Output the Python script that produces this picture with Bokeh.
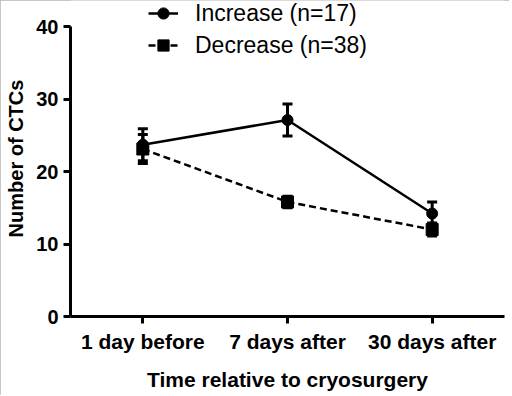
from bokeh.plotting import figure
from bokeh.models import (ColumnDataSource, Whisker, TeeHead, Legend, LegendItem,
                          FactorRange, Range1d, FixedTicker)
from bokeh.embed import file_html
from bokeh.resources import INLINE

# ---- data ----
categories = ["1 day before", "7 days after", "30 days after"]
increase_mean = [23.7, 27.1, 14.2]
increase_sem = [2.2, 2.2, 1.6]
decrease_mean = [23.1, 15.8, 12.0]
decrease_sem = [2.0, 0.8, 0.9]
y_ticks = [0, 10, 20, 30, 40]
increase_label = "Increase (n=17)"
decrease_label = "Decrease (n=38)"

inc_src = ColumnDataSource(dict(
    x=categories, y=increase_mean,
    upper=[m + e for m, e in zip(increase_mean, increase_sem)],
    lower=[m - e for m, e in zip(increase_mean, increase_sem)],
))
dec_src = ColumnDataSource(dict(
    x=categories, y=decrease_mean,
    upper=[m + e for m, e in zip(decrease_mean, decrease_sem)],
    lower=[m - e for m, e in zip(decrease_mean, decrease_sem)],
))

# frame reaches the top of the canvas so the legend (above the 40 tick) is not clipped;
# the axis line itself is bounded to 0..40
FRAME_H = 316
AXIS_TOP_PX = 26
y_end = 40 * FRAME_H / (FRAME_H - AXIS_TOP_PX)

p = figure(width=509, height=395, output_backend="svg", toolbar_location=None,
           x_range=FactorRange(factors=categories), y_range=Range1d(0, y_end),
           min_border_left=70, min_border_right=5, min_border_top=0, min_border_bottom=79)
p.outline_line_color = None
p.xgrid.visible = False
p.ygrid.visible = False
p.background_fill_color = "white"
p.border_fill_color = "white"
p.styles = {"outline": "1px solid #b4b4b4", "outline-offset": "-1px"}

FONT = "Liberation Sans"
for ax in (p.xaxis[0], p.yaxis[0]):
    ax.axis_line_width = 3
    ax.axis_line_color = "black"
    ax.major_tick_line_width = 3
    ax.major_tick_line_color = "black"
    ax.major_tick_out = 7
    ax.major_tick_in = 0
    ax.minor_tick_line_color = None
    ax.major_label_text_font = FONT
    ax.major_label_text_font_style = "bold"
    ax.major_label_text_color = "black"
    ax.axis_label_text_font = FONT
    ax.axis_label_text_font_style = "bold"
    ax.axis_label_text_color = "black"

p.yaxis.ticker = FixedTicker(ticks=y_ticks)
p.yaxis.bounds = (0, 40)
p.yaxis.major_label_text_font_size = "20px"
p.yaxis.major_label_standoff = 5
p.yaxis.axis_label = "Number of CTCs"
p.yaxis.axis_label_text_font_size = "20px"
p.yaxis.axis_label_standoff = 6
p.xaxis.major_label_text_font_size = "21px"
p.xaxis.major_label_standoff = 6
p.xaxis.axis_label = "Time relative to cryosurgery"
p.xaxis.axis_label_text_font_size = "21px"
p.xaxis.axis_label_standoff = 12

# ---- series ----
l_inc = p.line("x", "y", source=inc_src, line_color="black", line_width=2.5)
s_inc = p.scatter("x", "y", source=inc_src, marker="circle", size=11,
                  fill_color="black", line_color="black")
l_dec = p.line("x", "y", source=dec_src, line_color="black", line_width=2.5,
               line_dash="7 4")
s_dec = p.scatter("x", "y", source=dec_src, marker="square", size=12,
                  fill_color="black", line_color="black")

for src in (inc_src, dec_src):
    w = Whisker(base="x", upper="upper", lower="lower", source=src,
                line_color="black", line_width=3,
                upper_head=TeeHead(size=10, line_width=3, line_color="black"),
                lower_head=TeeHead(size=10, line_width=3, line_color="black"))
    p.add_layout(w)


def make_legend(label, renderers, loc):
    return Legend(items=[LegendItem(label=label, renderers=renderers)],
                  location=loc, orientation="vertical",
                  glyph_width=30, glyph_height=28, label_height=28, spacing=0,
                  label_standoff=17, padding=0, margin=0,
                  border_line_color=None, background_fill_alpha=0,
                  label_text_font=FONT, label_text_font_size="23px",
                  label_text_color="black")


p.add_layout(make_legend(increase_label, [l_inc, s_inc], (78, 289)))
p.add_layout(make_legend(decrease_label, [l_dec, s_dec], (78, 257)))

open("out.html", "w").write(file_html(p, INLINE))
